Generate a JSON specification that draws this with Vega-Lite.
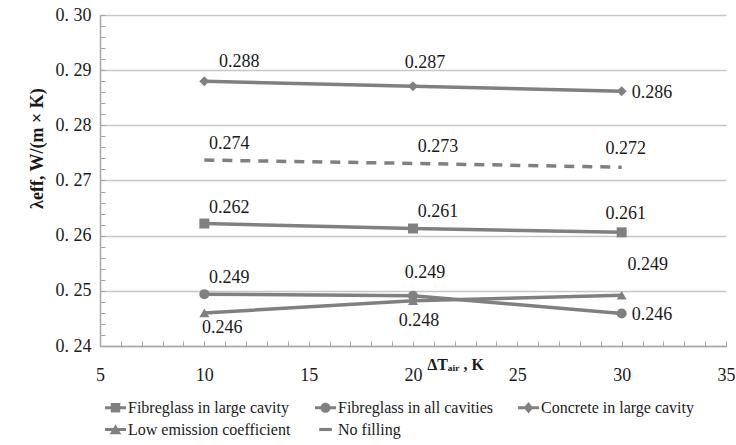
{
  "$schema": "https://vega.github.io/schema/vega-lite/v6.json",
  "width": 626,
  "height": 331,
  "autosize": {"type": "none"},
  "padding": {"left": 100, "top": 15, "right": 10, "bottom": 99},
  "background": "white",
  "config": {"view": {"stroke": null}, "font": "Liberation Serif, serif"},
  "data": {
    "values": [
      {"series": "Fibreglass in large cavity", "x": 10, "y": 0.2622},
      {"series": "Fibreglass in large cavity", "x": 20, "y": 0.2613},
      {"series": "Fibreglass in large cavity", "x": 30, "y": 0.2606},
      {"series": "Fibreglass in all cavities", "x": 10, "y": 0.2494},
      {"series": "Fibreglass in all cavities", "x": 20, "y": 0.2491},
      {"series": "Fibreglass in all cavities", "x": 30, "y": 0.2459},
      {"series": "Concrete in large cavity", "x": 10, "y": 0.2880},
      {"series": "Concrete in large cavity", "x": 20, "y": 0.2871},
      {"series": "Concrete in large cavity", "x": 30, "y": 0.2862},
      {"series": "Low emission coefficient", "x": 10, "y": 0.2460},
      {"series": "Low emission coefficient", "x": 20, "y": 0.2482},
      {"series": "Low emission coefficient", "x": 30, "y": 0.2492},
      {"series": "No filling", "x": 10, "y": 0.2737},
      {"series": "No filling", "x": 20, "y": 0.2731},
      {"series": "No filling", "x": 30, "y": 0.2724}
    ]
  },
  "encoding": {
    "x": {
      "field": "x", "type": "quantitative",
      "scale": {"domain": [5, 35], "nice": false, "zero": false},
      "axis": {
        "values": [5,6,7,8,9,10,11,12,13,14,15,16,17,18,19,20,21,22,23,24,25,26,27,28,29,30,31,32,33,34,35],
        "labelExpr": "datum.value % 5 === 0 ? datum.label : ''",
        "labelOverlap": false, "labelFlush": false,
        "grid": false,
        "domainColor": "#a6a6a6", "domainWidth": 1.5,
        "tickColor": "#a6a6a6", "tickSize": -5, "tickWidth": 1,
        "labelFontSize": 18, "labelColor": "#1a1a1a", "labelPadding": 25,
        "title": "ΔTₐᵢᵣ , K",
        "titleFontSize": 16, "titleFontWeight": "bold", "titleColor": "#1a1a1a",
        "titleX": 355, "titleY": 18, "titleBaseline": "middle", "titleAlign": "center"
      }
    },
    "y": {
      "field": "y", "type": "quantitative",
      "scale": {"domain": [0.24, 0.30], "nice": false, "zero": false},
      "axis": {
        "values": [0.24,0.242,0.244,0.246,0.248,0.25,0.252,0.254,0.256,0.258,0.26,0.262,0.264,0.266,0.268,0.27,0.272,0.274,0.276,0.278,0.28,0.282,0.284,0.286,0.288,0.29,0.292,0.294,0.296,0.298,0.30],
        "labelExpr": "abs(datum.value*100 - round(datum.value*100)) < 0.01 ? replace(format(datum.value, '.2f'), '.', '. ') : ''",
        "labelOverlap": false,
        "grid": true, "gridColor": "#c6c6c6", "gridWidth": 1.5,
        "gridOpacity": {"condition": {"test": "abs(datum.value*100 - round(datum.value*100)) < 0.01", "value": 1}, "value": 0},
        "domainColor": "#a6a6a6", "domainWidth": 1.5,
        "tickColor": "#a6a6a6", "tickSize": -5, "tickWidth": 1,
        "labelFontSize": 18, "labelColor": "#1a1a1a", "labelPadding": 14,
        "title": "λeff, W/(m × K)",
        "titleFontSize": 18, "titleFontWeight": "bold", "titleColor": "#1a1a1a",
        "titleX": -63, "titleY": 133, "titleBaseline": "middle", "titleAlign": "center"
      }
    }
  },
  "resolve": {"scale": {"shape": "independent"}, "legend": {"shape": "independent"}},
  "layer": [
    {
      "transform": [{"filter": "datum.series !== 'No filling'"}],
      "mark": {"type": "line", "color": "#808080", "strokeWidth": 3.5},
      "encoding": {"detail": {"field": "series", "type": "nominal"}}
    },
    {
      "transform": [{"filter": "datum.series === 'No filling'"}],
      "mark": {"type": "line", "color": "#808080", "strokeWidth": 3.5, "strokeDash": [10, 8]},
      "encoding": {}
    },
    {
      "transform": [{"filter": "datum.series !== 'No filling'"}],
      "mark": {"type": "point", "filled": true, "color": "#808080", "opacity": 1, "size": 100},
      "encoding": {
        "shape": {
          "field": "series", "type": "nominal",
          "scale": {"domain": ["Fibreglass in large cavity", "Fibreglass in all cavities", "Concrete in large cavity", "Low emission coefficient"], "range": ["square", "circle", "diamond", "triangle-up"]},
          "legend": null
        }
      }
    },
    {
      "mark": {"type": "point", "filled": true, "color": "#808080", "opacity": 0, "size": 10},
      "encoding": {
        "shape": {
          "field": "series", "type": "nominal",
          "scale": {
            "domain": ["Fibreglass in large cavity", "Fibreglass in all cavities", "Concrete in large cavity", "Low emission coefficient", "No filling"],
            "range": [
              "M-1,-0.15H1V0.15H-1Z M-0.45,-0.45H0.45V0.45H-0.45Z",
              "M-1,-0.15H1V0.15H-1Z M-0.48,0A0.48,0.48 0 1,1 0.48,0A0.48,0.48 0 1,1 -0.48,0Z",
              "M-1,-0.15H1V0.15H-1Z M0,-0.55L0.45,0L0,0.55L-0.45,0Z",
              "M-1,-0.15H1V0.15H-1Z M0,-0.5L0.55,0.45L-0.55,0.45Z",
              "M-0.6,-0.15H0.6V0.15H-0.6Z"
            ]
          },
          "legend": {
            "title": null, "orient": "none", "legendX": 5, "legendY": 382,
            "direction": "horizontal", "columns": 3, "columnPadding": 24, "rowPadding": 3,
            "symbolSize": 441, "symbolStrokeWidth": 0, "symbolFillColor": "#808080", "symbolOpacity": 1,
            "labelFontSize": 16, "labelColor": "#1a1a1a", "labelOffset": 2, "labelLimit": 300,
            "padding": 0
          }
        }
      }
    },
    {
      "transform": [{"filter": "((datum.series === 'No filling' || datum.series === 'Fibreglass in large cavity') && datum.x < 30) || (datum.series === 'Fibreglass in all cavities' && datum.x === 10)"}],
      "mark": {"type": "text", "fontSize": 18, "color": "#1a1a1a", "dx": 25, "dy": -16, "align": "center", "baseline": "middle"},
      "encoding": {"text": {"field": "y", "type": "quantitative", "format": ".3f"}}
    },
    {
      "transform": [{"filter": "datum.x === 20 && (datum.series === 'Concrete in large cavity' || datum.series === 'Fibreglass in all cavities')"}],
      "mark": {"type": "text", "fontSize": 18, "color": "#1a1a1a", "dx": 12, "dy": -23, "align": "center", "baseline": "middle"},
      "encoding": {"text": {"field": "y", "type": "quantitative", "format": ".3f"}}
    },
    {
      "transform": [{"filter": "datum.x === 30 && (datum.series === 'Concrete in large cavity' || datum.series === 'Fibreglass in all cavities')"}],
      "mark": {"type": "text", "fontSize": 18, "color": "#1a1a1a", "dx": 10, "dy": 2, "align": "left", "baseline": "middle"},
      "encoding": {"text": {"field": "y", "type": "quantitative", "format": ".3f"}}
    },
    {
      "transform": [{"filter": "datum.x === 30 && (datum.series === 'No filling' || datum.series === 'Fibreglass in large cavity')"}],
      "mark": {"type": "text", "fontSize": 18, "color": "#1a1a1a", "dx": 4, "dy": -18, "align": "center", "baseline": "middle"},
      "encoding": {"text": {"field": "y", "type": "quantitative", "format": ".3f"}}
    },
    {
      "transform": [{"filter": "datum.x === 10 && datum.series === 'Concrete in large cavity'"}],
      "mark": {"type": "text", "fontSize": 18, "color": "#1a1a1a", "dx": 35, "dy": -19, "align": "center", "baseline": "middle"},
      "encoding": {"text": {"field": "y", "type": "quantitative", "format": ".3f"}}
    },
    {
      "transform": [{"filter": "datum.x === 10 && datum.series === 'Low emission coefficient'"}],
      "mark": {"type": "text", "fontSize": 18, "color": "#1a1a1a", "dx": 18, "dy": 15, "align": "center", "baseline": "middle"},
      "encoding": {"text": {"field": "y", "type": "quantitative", "format": ".3f"}}
    },
    {
      "transform": [{"filter": "datum.x === 20 && datum.series === 'Low emission coefficient'"}],
      "mark": {"type": "text", "fontSize": 18, "color": "#1a1a1a", "dx": 6, "dy": 20, "align": "center", "baseline": "middle"},
      "encoding": {"text": {"field": "y", "type": "quantitative", "format": ".3f"}}
    },
    {
      "transform": [{"filter": "datum.x === 30 && datum.series === 'Low emission coefficient'"}],
      "mark": {"type": "text", "fontSize": 18, "color": "#1a1a1a", "dx": 26, "dy": -30, "align": "center", "baseline": "middle"},
      "encoding": {"text": {"field": "y", "type": "quantitative", "format": ".3f"}}
    }
  ]
}
